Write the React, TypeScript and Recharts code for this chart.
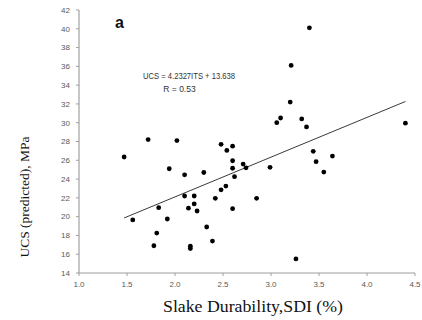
import { ScatterChart, Scatter, XAxis, YAxis, ReferenceLine } from "recharts"

// Slake durability index (x) and predicted UCS (y) for each sample
const sdi = [
  1.47, 1.72, 2.02, 3.4, 3.21, 3.2, 3.06, 3.1, 3.32, 3.37, 4.4, 2.48, 2.54, 2.6, 3.44, 3.64,
  2.6, 2.6, 2.71, 2.74, 2.62, 2.3, 2.99, 3.47, 3.55, 2.53, 2.48, 2.42, 2.85, 2.6, 2.33, 2.39,
  3.26, 1.94, 2.1, 2.1, 2.2, 2.2, 2.14, 2.23, 1.83, 1.56, 1.92, 1.81, 1.78, 2.16, 2.16,
]
const ucs = [
  26.35, 28.2, 28.1, 40.1, 36.1, 32.2, 30.0, 30.5, 30.4, 29.55, 29.95, 27.7, 27.05, 27.5, 26.95, 26.45,
  25.95, 25.15, 25.6, 25.2, 24.25, 24.7, 25.25, 25.85, 24.75, 23.25, 22.85, 21.95, 21.95, 20.85, 18.9, 17.4,
  15.5, 25.1, 24.45, 22.2, 22.2, 21.35, 20.9, 20.6, 20.95, 19.65, 19.75, 18.25, 16.9, 16.85, 16.6,
]

// fitted line end points
const fitX = [1.47, 4.4]
const fitY = [19.86, 32.26]

const xTicks = [1.0, 1.5, 2.0, 2.5, 3.0, 3.5, 4.0, 4.5]
const yTicks = [14, 16, 18, 20, 22, 24, 26, 28, 30, 32, 34, 36, 38, 40, 42]

const points = sdi.map((x, i) => ({ x, y: ucs[i] }))

const tickStyle = { fontSize: 8, fill: "#595959", fontFamily: "Liberation Sans, Arial, sans-serif" }

export default function App() {
  return (
    <div style={{ position: "absolute", left: 0, top: 0, width: 422, height: 320, background: "#fff" }}>
      <ScatterChart width={422} height={320} margin={{ top: 10, right: 7, bottom: 17, left: 0 }}>
        <XAxis
          type="number"
          dataKey="x"
          domain={[1, 4.5]}
          ticks={xTicks}
          tickFormatter={(v) => Number(v).toFixed(1)}
          height={30}
          tickSize={3}
          tickMargin={5}
          tick={tickStyle}
          axisLine={{ stroke: "#a0a0a0", strokeWidth: 1.2 }}
          tickLine={{ stroke: "#a0a0a0" }}
        />
        <YAxis
          type="number"
          dataKey="y"
          domain={[14, 42]}
          ticks={yTicks}
          width={79}
          tickSize={3}
          tickMargin={6}
          tick={tickStyle}
          axisLine={{ stroke: "#a0a0a0", strokeWidth: 1.2 }}
          tickLine={{ stroke: "#a0a0a0" }}
        />
        <ReferenceLine
          segment={[
            { x: fitX[0], y: fitY[0] },
            { x: fitX[1], y: fitY[1] },
          ]}
          stroke="#3a3a3a"
          strokeWidth={1}
        />
        <Scatter
          data={points}
          isAnimationActive={false}
          shape={(p: any) => <circle cx={p.cx} cy={p.cy} r={2.4} fill="#000" />}
        />
      </ScatterChart>
      <svg width={422} height={320} style={{ position: "absolute", left: 0, top: 0, pointerEvents: "none" }}>
        <text x={115} y={28} fontSize={16} fontWeight="bold" fontFamily="Liberation Sans, Arial, sans-serif" fill="#111">
          a
        </text>
        <text
          x={189}
          y={79}
          textAnchor="middle"
          fontSize={8.5}
          textLength={92}
          lengthAdjust="spacingAndGlyphs"
          fontFamily="Liberation Sans, Arial, sans-serif"
          fill="#333"
        >
          UCS = 4.2327ITS + 13.638
        </text>
        <text x={179.5} y={92} textAnchor="middle" fontSize={8.5} fontFamily="Liberation Sans, Arial, sans-serif" fill="#333">
          R = 0.53
        </text>
        <text
          x={0}
          y={0}
          transform="translate(29,197) rotate(-90)"
          textAnchor="middle"
          fontSize={13.5}
          fontFamily="Liberation Serif, Times New Roman, serif"
          fill="#111"
        >
          UCS (predicted), MPa
        </text>
        <text
          x={253}
          y={312}
          textAnchor="middle"
          fontSize={16}
          textLength={180}
          lengthAdjust="spacingAndGlyphs"
          fontFamily="Liberation Serif, Times New Roman, serif"
          fill="#111"
        >
          Slake Durability,SDI (%)
        </text>
      </svg>
    </div>
  )
}
